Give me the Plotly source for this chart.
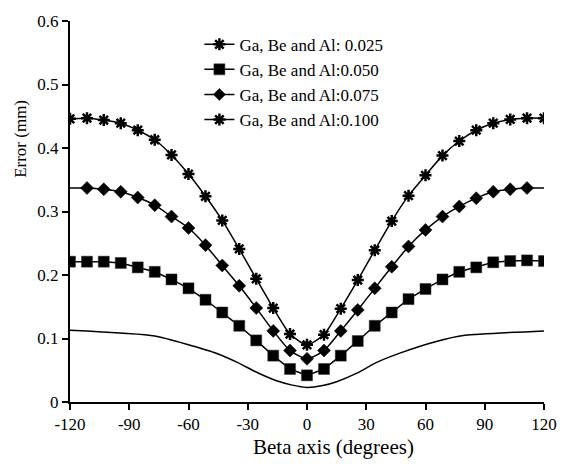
import plotly.graph_objects as go

# Beta angle sample positions (degrees)
beta = [-120, -111.4, -102.9, -94.3, -85.7, -77.1, -68.6, -60, -51.4, -42.9,
        -34.3, -25.7, -17.1, -8.6, 0, 8.6, 17.1, 25.7, 34.3, 42.9,
        51.4, 60, 68.6, 77.1, 85.7, 94.3, 102.9, 111.4, 120]

err_100 = [0.446, 0.447, 0.444, 0.439, 0.428, 0.413, 0.389, 0.359, 0.324, 0.286,
           0.241, 0.194, 0.148, 0.107, 0.090, 0.106, 0.147, 0.192, 0.239, 0.285,
           0.325, 0.357, 0.388, 0.411, 0.428, 0.439, 0.445, 0.447, 0.447]
err_075 = [0.337, 0.337, 0.335, 0.331, 0.322, 0.310, 0.292, 0.274, 0.247, 0.215,
           0.183, 0.148, 0.112, 0.081, 0.068, 0.081, 0.112, 0.145, 0.179, 0.213,
           0.245, 0.271, 0.292, 0.308, 0.321, 0.331, 0.335, 0.337, 0.337]
err_050 = [0.221, 0.221, 0.221, 0.219, 0.212, 0.205, 0.193, 0.179, 0.161, 0.141,
           0.120, 0.097, 0.073, 0.052, 0.042, 0.052, 0.073, 0.096, 0.120, 0.141,
           0.162, 0.178, 0.193, 0.205, 0.212, 0.220, 0.222, 0.223, 0.222]

beta_025 = [-120, -77, -47, -35, -25, -15, -8, 0, 8, 15, 25, 35, 47, 65, 80, 120]
err_025 = [0.113, 0.104, 0.078, 0.062, 0.046, 0.033, 0.027, 0.023, 0.026, 0.032,
           0.045, 0.062, 0.077, 0.095, 0.105, 0.112]

names = ["Ga, Be and Al: 0.025", "Ga, Be and Al:0.050",
         "Ga, Be and Al:0.075", "Ga, Be and Al:0.100"]

x_ticks = [-120, -90, -60, -30, 0, 30, 60, 90, 120]
x_ticklabels = ["-120", "-90", "-60", "-30", "0", "30", "60", "90", "120"]
y_ticks = [0, 0.1, 0.2, 0.3, 0.4, 0.5, 0.6]
y_ticklabels = ["0", "0.1", "0.2", "0.3", "0.4", "0.5", "0.6"]

FONT = "Liberation Serif"
BLK = "black"
star = dict(symbol="asterisk-open", size=10, color=BLK, opacity=1,
            line=dict(color=BLK, width=2.5))

fig = go.Figure()

# 0.025 : plain line in plot, star symbol in legend
fig.add_trace(go.Scatter(x=beta_025, y=err_025, mode="lines", showlegend=False,
                         line=dict(color=BLK, width=1.5, shape="spline", smoothing=0.5)))
fig.add_trace(go.Scatter(x=[None], y=[None], mode="lines+markers", name=names[0],
                         line=dict(color=BLK, width=1.5), marker=star))
# 0.050 squares
fig.add_trace(go.Scatter(x=beta, y=err_050, mode="lines+markers", name=names[1],
                         line=dict(color=BLK, width=1.5),
                         marker=dict(symbol="square", size=11, color=BLK, opacity=1,
                                     line=dict(color="#333333", width=0.5))))
# 0.075 diamonds (end markers hidden, as in the source)
dsize = [0] + [10] * (len(beta) - 2) + [0]
fig.add_trace(go.Scatter(x=beta, y=err_075, mode="lines+markers", name=names[2],
                         line=dict(color=BLK, width=1.5, shape="spline", smoothing=0.6),
                         marker=dict(symbol="diamond", size=dsize, color=BLK, opacity=1,
                                     line=dict(color=BLK, width=0.5))))
# 0.100 stars
fig.add_trace(go.Scatter(x=beta, y=err_100, mode="lines+markers", name=names[3],
                         line=dict(color=BLK, width=1.5, shape="spline", smoothing=0.6),
                         marker=star))

fig.update_layout(
    width=569, height=464,
    margin=dict(l=70, r=20, t=13, b=62),
    paper_bgcolor="white", plot_bgcolor="white",
    font=dict(family=FONT, size=17, color=BLK),
    legend=dict(x=0.273, y=0.985, xanchor="left", yanchor="top",
                bgcolor="rgba(0,0,0,0)", font=dict(size=17, family=FONT, color=BLK),
                tracegroupgap=0, itemwidth=30),
    xaxis=dict(range=[-120, 120], tickmode="array", tickvals=x_ticks,
               ticktext=x_ticklabels, showgrid=False, zeroline=False,
               showline=True, linecolor=BLK, linewidth=2,
               ticks="outside", ticklen=6, tickwidth=2, tickcolor=BLK,
               tickfont=dict(size=17, family=FONT, color=BLK)),
    yaxis=dict(range=[0, 0.6], tickmode="array", tickvals=y_ticks,
               ticktext=y_ticklabels, showgrid=False, zeroline=False,
               showline=True, linecolor=BLK, linewidth=2,
               ticks="outside", ticklen=6, tickwidth=2, tickcolor=BLK,
               tickfont=dict(size=17, family=FONT, color=BLK)),
    annotations=[
        dict(text="Beta axis (degrees)", xref="paper", yref="paper",
             x=0.555, y=-0.118, xanchor="center", yanchor="middle",
             showarrow=False, font=dict(size=21, family=FONT, color=BLK)),
        dict(text="Error (mm)", xref="paper", yref="paper",
             x=-0.106, y=0.69, xanchor="center", yanchor="middle", textangle=-90,
             showarrow=False, font=dict(size=17, family=FONT, color=BLK)),
    ],
)

fig.write_html("out.html")
